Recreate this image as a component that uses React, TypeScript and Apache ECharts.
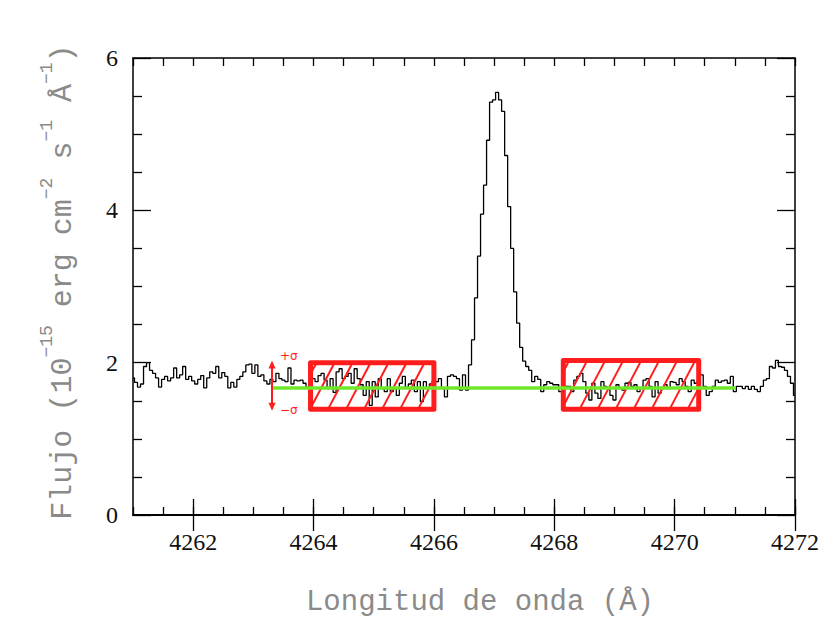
import React, { useEffect, useRef } from 'react';
import * as echarts from 'echarts';

// Spectrum sampling (Angstrom) and flux values (10^-15 erg cm^-2 s^-1 A^-1)
const WAVE_START = 4261;
const WAVE_STEP = 0.05;
const FLUX = [
  1.80, 1.74, 1.68, 1.72, 1.95, 2.00, 1.90, 1.86, 1.80, 1.68,
  1.78, 1.82, 1.76, 1.80, 1.93, 1.80, 1.84, 1.95, 1.78, 1.82,
  1.76, 1.72, 1.78, 1.83, 1.67, 1.80, 1.88, 1.86, 1.95, 1.80,
  1.87, 1.82, 1.67, 1.74, 1.68, 1.78, 1.82, 1.88, 1.97, 1.98,
  1.86, 1.97, 1.82, 1.84, 1.76, 1.72, 1.78,
  1.75, 1.86, 1.79,
  1.77, 1.75, 1.93, 1.72, 1.77, 1.76, 1.77, 1.73, 1.68, 1.70,
  1.79, 1.75, 1.83, 1.86, 1.77, 1.66, 1.79, 1.61, 1.88, 1.92,
  1.79, 1.82, 1.86, 1.73, 1.92, 1.79, 1.71, 1.57, 1.75, 1.44,
  1.75, 1.55, 1.79, 1.66, 1.62, 1.79, 1.62, 1.66, 1.57, 1.73,
  1.82, 1.68, 1.72,
  1.77, 1.62, 1.75, 1.49, 1.75, 1.66, 1.72,
  1.70, 1.75, 1.79, 1.66, 1.55, 1.82, 1.84, 1.82, 1.79, 1.64,
  1.84, 1.64, 1.97, 2.30, 2.85, 3.40, 3.95, 4.33, 4.92, 5.42,
  5.45, 5.55, 5.45, 5.30, 4.72, 4.05, 3.50, 2.93, 2.52, 2.20,
  2.02, 1.95, 1.90, 1.75, 1.82, 1.78, 1.62, 1.71, 1.75, 1.73,
  1.71, 1.71, 1.62, 1.69, 1.69, 1.69, 1.62, 1.77, 1.82, 1.86,
  1.75, 1.60, 1.51, 1.73, 1.60, 1.53, 1.75, 1.69, 1.66, 1.57,
  1.51, 1.71, 1.66, 1.64, 1.73, 1.74, 1.69, 1.71, 1.62, 1.66,
  1.77, 1.79, 1.69, 1.55, 1.75, 1.60, 1.66, 1.71, 1.66, 1.75,
  1.74, 1.71, 1.79, 1.75, 1.69, 1.62, 1.77, 1.73, 1.76, 1.84,
  1.69, 1.57, 1.62, 1.69, 1.77, 1.74, 1.76, 1.77, 1.73, 1.82,
  1.62, 1.69, 1.69, 1.66, 1.69, 1.65, 1.69, 1.65, 1.62, 1.69,
  1.77, 1.79, 1.95, 1.93, 2.03, 1.95, 1.94, 1.90, 1.82, 1.73,
  1.57,
];

const X_LABELS = [4262, 4264, 4266, 4268, 4270, 4272];
const X_MIN = 4261;
const X_MAX = 4272;
const Y_MIN = 0;
const Y_MAX = 6;

// Continuum fit level and its extent
const CONTINUUM_LEVEL = 1.667;
const CONTINUUM_RANGE = [4263.32, 4271.0];

// Continuum windows: [lambda start, lambda end, flux low, flux high]
const WINDOWS = [
  [4263.95, 4266.0, 1.39, 2.0],
  [4268.15, 4270.4, 1.39, 2.03],
];

// Sigma marker: [lambda, flux low, flux high]
const SIGMA_MARK = [[4263.31, 1.37, 2.03]];
const SIGMA_LABELS = ['+σ', '−σ'];

const X_TITLE = 'Longitud de onda (Å)';
const Y_TITLE = '{m|Flujo (10}{s|−15}{m| erg cm}{s|−2}{m| s}{s|−1}{m| Å}{s|−1}{m|)}';

const RED = '#ff1c1c';
const GREEN = '#6fe82a';
const TITLE_GRAY = '#8a8a8a';
const TICK_FONT = 'Liberation Serif';
const TITLE_FONT = 'Liberation Mono';

export default function App() {
  const ref = useRef<HTMLDivElement>(null);

  useEffect(() => {
    document.body.style.margin = '0';
    if (!ref.current) return;
    const chart = echarts.init(ref.current, null, { renderer: 'svg' });

    const spectrum = FLUX.map((v, i) => [+(WAVE_START + i * WAVE_STEP).toFixed(3), v]);

    const axisLine = { show: true, lineStyle: { color: '#000', width: 1.5 } };
    const longTick = (vals?: number[]) => ({
      show: true,
      inside: true,
      length: 16,
      ...(vals ? { customValues: vals } : {}),
      lineStyle: { color: '#000', width: 1.3 },
    });
    const shortTick = { show: true, inside: true, length: 8, lineStyle: { color: '#000', width: 1.3 } };

    const xBase: any = {
      type: 'value',
      min: X_MIN,
      max: X_MAX,
      splitLine: { show: false },
      axisLine,
    };

    const yBase: any = {
      type: 'value',
      min: Y_MIN,
      max: Y_MAX,
      interval: 2,
      splitLine: { show: false },
      minorSplitLine: { show: false },
      axisLine,
      axisTick: { show: true, inside: true, length: 18, lineStyle: { color: '#000', width: 1.3 } },
      minorTick: { show: true, splitNumber: 4, length: 9, lineStyle: { color: '#000', width: 1.3 } },
    };

    const hatchSpacing = 18;
    const hatchSlope = 1.9;

    chart.setOption({
      animation: false,
      backgroundColor: '#ffffff',
      grid: { left: 133, right: 33, top: 58, bottom: 108, containLabel: false, outerBoundsMode: 'none' },
      xAxis: [
        {
          ...xBase,
          position: 'bottom',
          axisTick: longTick(X_LABELS),
          axisLabel: {
            customValues: X_LABELS,
            formatter: (v: number) => String(Math.round(v)),
            fontFamily: TICK_FONT,
            fontSize: 24,
            color: '#111',
            margin: 15,
          },
        },
        { ...xBase, position: 'top', axisTick: longTick(X_LABELS), axisLabel: { show: false } },
        { ...xBase, position: 'top', interval: 0.5, axisTick: shortTick, axisLabel: { show: false } },
        { ...xBase, position: 'bottom', interval: 0.5, axisTick: shortTick, axisLabel: { show: false } },
      ],
      yAxis: [
        {
          ...yBase,
          position: 'left',
          axisLabel: {
            formatter: (v: number) => String(v),
            fontFamily: TICK_FONT,
            fontSize: 24,
            color: '#111',
            margin: 15,
          },
        },
        { ...yBase, position: 'right', axisLabel: { show: false } },
      ],
      graphic: [
        {
          type: 'text',
          x: 480,
          y: 602,
          style: {
            text: X_TITLE,
            font: `29px "${TITLE_FONT}"`,
            fill: TITLE_GRAY,
            align: 'center',
            verticalAlign: 'middle',
            textAlign: 'center',
            textVerticalAlign: 'middle',
          },
        },
        {
          type: 'text',
          x: 58,
          y: 282,
          rotation: Math.PI / 2,
          style: {
            text: Y_TITLE,
            align: 'center',
            verticalAlign: 'middle',
            textAlign: 'center',
            textVerticalAlign: 'middle',
            rich: {
              m: {
                fontFamily: TITLE_FONT,
                fontSize: 30,
                fill: TITLE_GRAY,
                color: TITLE_GRAY,
                verticalAlign: 'bottom',
                padding: [10, 0, 0, 0],
              },
              s: {
                fontFamily: TITLE_FONT,
                fontSize: 18,
                fill: TITLE_GRAY,
                color: TITLE_GRAY,
                verticalAlign: 'top',
              },
            },
          },
        },
      ],
      series: [
        {
          type: 'line',
          name: 'espectro',
          xAxisIndex: 0,
          yAxisIndex: 0,
          data: spectrum,
          step: 'middle',
          showSymbol: false,
          symbol: 'none',
          lineStyle: { color: '#000', width: 1.3 },
          z: 2,
        },
        {
          type: 'custom',
          name: 'ventanas',
          xAxisIndex: 0,
          yAxisIndex: 0,
          data: WINDOWS,
          z: 3,
          renderItem: (params: any, api: any) => {
            const p0 = api.coord([api.value(0), api.value(3)]);
            const p1 = api.coord([api.value(1), api.value(2)]);
            const x0 = p0[0], y0 = p0[1], x1 = p1[0], y1 = p1[1];
            const h = y1 - y0;
            const run = h / hatchSlope;
            const children: any[] = [];
            for (let xb = x0 - run + 6; xb < x1; xb += hatchSpacing) {
              const tmin = Math.max(0, (x0 - xb) / run);
              const tmax = Math.min(1, (x1 - xb) / run);
              if (tmax <= tmin) continue;
              children.push({
                type: 'line',
                shape: {
                  x1: xb + tmin * run,
                  y1: y1 - tmin * h,
                  x2: xb + tmax * run,
                  y2: y1 - tmax * h,
                },
                style: { stroke: RED, lineWidth: 2 },
              });
            }
            children.push({
              type: 'rect',
              shape: { x: x0, y: y0, width: x1 - x0, height: h },
              style: { fill: 'rgba(0,0,0,0)', stroke: RED, lineWidth: 5, lineJoin: 'round' },
            });
            return { type: 'group', children };
          },
        },
        {
          type: 'custom',
          name: 'sigma',
          xAxisIndex: 0,
          yAxisIndex: 0,
          data: SIGMA_MARK,
          z: 5,
          clip: false,
          renderItem: (params: any, api: any) => {
            const top = api.coord([api.value(0), api.value(2)]);
            const bot = api.coord([api.value(0), api.value(1)]);
            const x = top[0];
            const head = 8;
            const hw = 3.5;
            return {
              type: 'group',
              children: [
                {
                  type: 'line',
                  shape: { x1: x, y1: top[1] + head - 1, x2: x, y2: bot[1] - head + 1 },
                  style: { stroke: RED, lineWidth: 2 },
                },
                {
                  type: 'polygon',
                  shape: { points: [[x, top[1]], [x - hw, top[1] + head], [x + hw, top[1] + head]] },
                  style: { fill: RED },
                },
                {
                  type: 'polygon',
                  shape: { points: [[x, bot[1]], [x - hw, bot[1] - head], [x + hw, bot[1] - head]] },
                  style: { fill: RED },
                },
                {
                  type: 'text',
                  x: x + 8,
                  y: top[1] - 4,
                  style: {
                    text: SIGMA_LABELS[0],
                    font: '12px "DejaVu Sans"',
                    fill: RED,
                    align: 'left',
                    verticalAlign: 'middle',
                  },
                },
                {
                  type: 'text',
                  x: x + 8,
                  y: bot[1] - 1,
                  style: {
                    text: SIGMA_LABELS[1],
                    font: '12px "DejaVu Sans"',
                    fill: RED,
                    align: 'left',
                    verticalAlign: 'middle',
                  },
                },
              ],
            };
          },
        },
        {
          type: 'line',
          name: 'continuo',
          xAxisIndex: 0,
          yAxisIndex: 0,
          data: [
            [CONTINUUM_RANGE[0], CONTINUUM_LEVEL],
            [CONTINUUM_RANGE[1], CONTINUUM_LEVEL],
          ],
          showSymbol: false,
          symbol: 'none',
          lineStyle: { color: GREEN, width: 3.5 },
          z: 4,
        },
      ],
    });

    return () => chart.dispose();
  }, []);

  return (
    <div
      ref={ref}
      style={{ position: 'fixed', left: 0, top: 0, width: 828, height: 623, background: '#fff' }}
    />
  );
}
